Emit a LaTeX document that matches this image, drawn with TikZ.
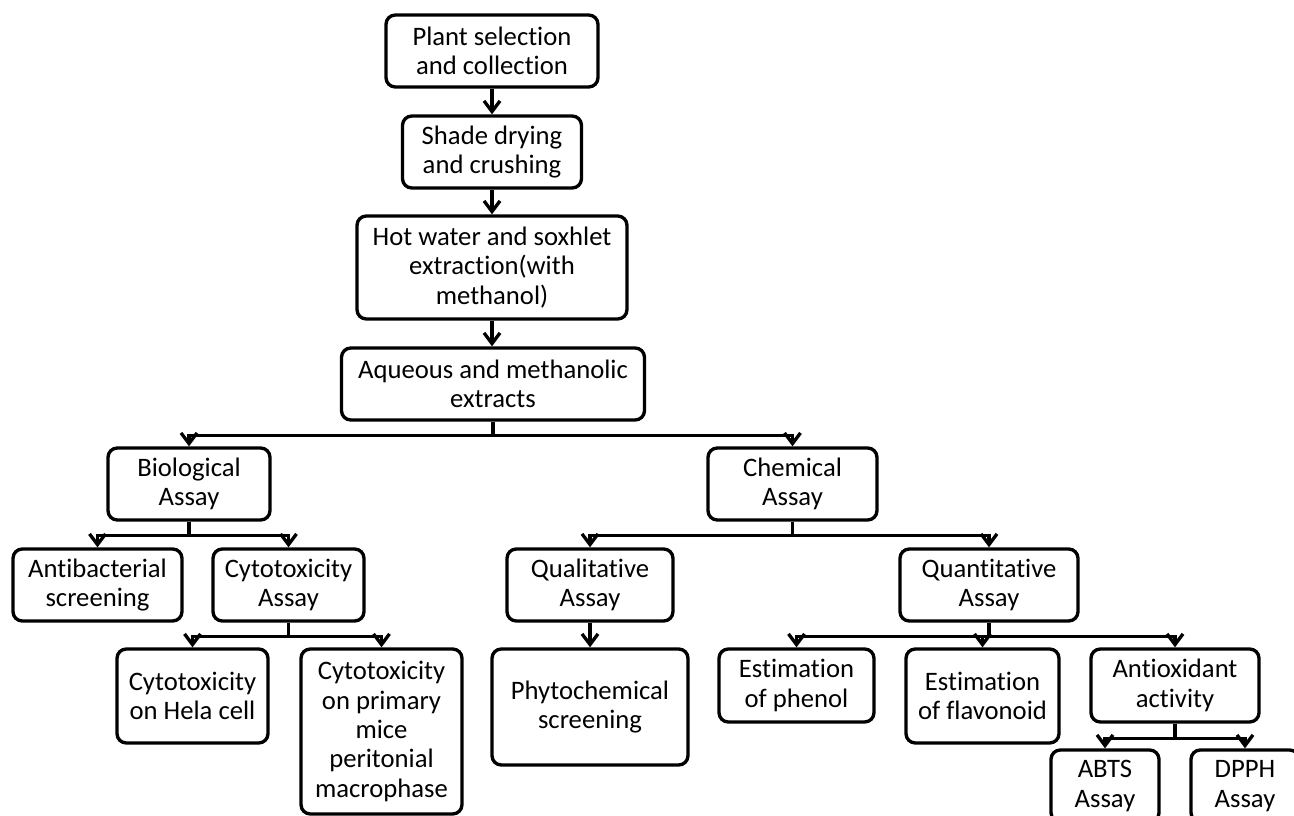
\documentclass[tikz,border=0pt]{standalone}
\usepackage{fontspec}
\setmainfont[Ligatures={NoCommon}]{Carlito}
\usetikzlibrary{arrows.meta}
\begin{document}
\begin{tikzpicture}[x=0.75pt,y=-0.75pt,
  box/.style={draw, line width=2.5pt, rounded corners=7pt, align=center, inner sep=0pt,
    font=\fontsize{20pt}{22pt}\selectfont},
  sz/.style 2 args={minimum width={#1*0.75pt}, minimum height={#2*0.75pt}},
  ln/.style={line width=2.5pt},
  arr/.style={line width=2.5pt, -{Straight Barb[length=8pt,width=12pt]}}]
\useasboundingbox (0,0) rectangle (1294,816);
\clip (0,0) rectangle (1294,816);

\node[box,sz={212}{72}] (plant) at (492,51) {Plant selection\\and collection};
\node[box,sz={179}{72}] (shade) at (492,152) {Shade drying\\and crushing};
\node[box,sz={270}{103}] (hot) at (492,267.5) {Hot water and soxhlet\\extraction(with\\methanol)};
\node[box,sz={303}{72}] (aq) at (493,384) {Aqueous and methanolic\\extracts};
\node[box,sz={162}{72}] (bio) at (189,484) {Biological\\Assay};
\node[box,sz={169}{72}] (chem) at (792.5,484) {Chemical\\Assay};
\node[box,sz={169}{72}] (antib) at (97.5,585) {Antibacterial\\screening};
\node[box,sz={151}{72}] (cyto) at (288.5,585) {Cytotoxicity\\Assay};
\node[box,sz={166}{72}] (qual) at (590,585) {Qualitative\\Assay};
\node[box,sz={178}{72}] (quant) at (989,585) {Quantitative\\Assay};
\node[box,sz={151}{94}] (hela) at (192.5,696) {Cytotoxicity\\on Hela cell};
\node[box,sz={161}{165}] (mice) at (381.5,731.5) {Cytotoxicity\\on primary\\mice\\peritonial\\macrophase};
\node[box,sz={196}{116}] (phyto) at (590,707) {Phytochemical\\screening};
\node[box,sz={155}{73}] (phenol) at (796.5,685.5) {Estimation\\of phenol};
\node[box,sz={153}{94}] (flav) at (982.5,696) {Estimation\\of flavonoid};
\node[box,sz={168}{73}] (antiox) at (1175,685.5) {Antioxidant\\activity};
\node[box,sz={108}{72}] (abts) at (1105,786) {ABTS\\Assay};
\node[box,sz={108}{72}] (dpph) at (1245,786) {DPPH\\Assay};

\draw[arr] (plant.south) -- (shade.north);
\draw[arr] (shade.south) -- (hot.north);
\draw[arr] (hot.south) -- (hot.south |- aq.north);

\draw[ln] (aq.south) -- ++(0,14) coordinate (j1);
\draw[arr] (j1) -| (bio.north);
\draw[arr] (j1) -| (chem.north);

\draw[ln] (bio.south) -- ++(0,14) coordinate (j2);
\draw[arr] (j2) -| (antib.north);
\draw[arr] (j2) -| (cyto.north);

\draw[ln] (chem.south) -- ++(0,14) coordinate (j3);
\draw[arr] (j3) -| (qual.north);
\draw[arr] (j3) -| (quant.north);

\draw[ln] (cyto.south) -- ++(0,14) coordinate (j4);
\draw[arr] (j4) -| (hela.north);
\draw[arr] (j4) -| (mice.north);

\draw[arr] (qual.south) -- (phyto.north);

\draw[ln] (quant.south) -- ++(0,14) coordinate (j5);
\draw[arr] (j5) -| (phenol.north);
\draw[arr] (j5) -| (flav.north);
\draw[arr] (j5) -| (antiox.north);

\draw[ln] (antiox.south) -- ++(0,15) coordinate (j6);
\draw[arr] (j6) -| (abts.north);
\draw[arr] (j6) -| (dpph.north);
\end{tikzpicture}
\end{document}
